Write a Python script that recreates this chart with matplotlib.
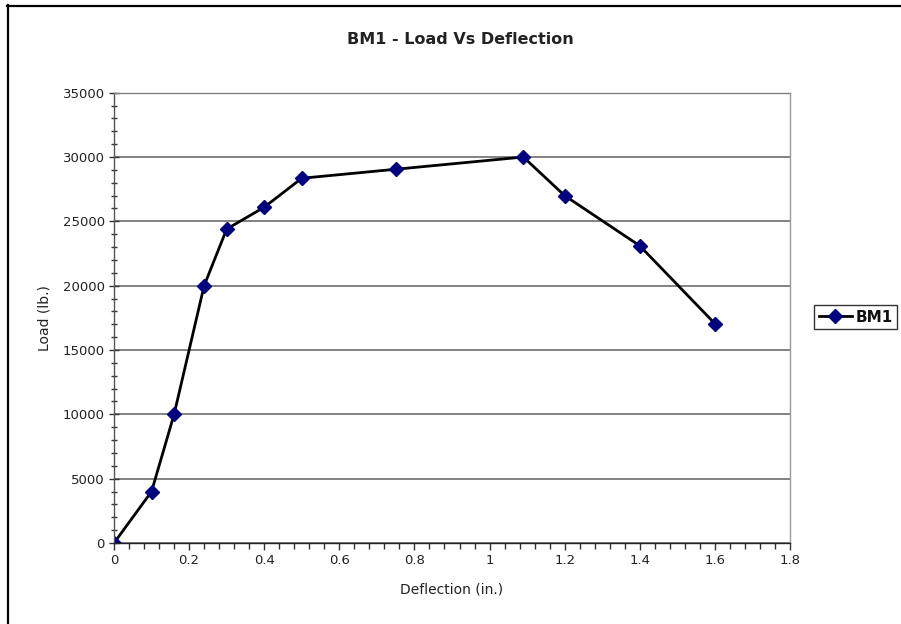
import matplotlib
matplotlib.use("Agg")
import matplotlib.pyplot as plt
from matplotlib.lines import Line2D
from matplotlib.ticker import MultipleLocator

# deflection (in.) vs load (lb.) for beam BM1
deflection = [0, 0.1, 0.16, 0.24, 0.3, 0.4, 0.5, 0.75, 1.09, 1.2, 1.4, 1.6]
load = [0, 4000, 10000, 20000, 24400, 26100, 28350, 29050, 30000, 27000, 23100, 17050]
xticks = [0, 0.2, 0.4, 0.6, 0.8, 1.0, 1.2, 1.4, 1.6, 1.8]
xtick_labels = ['0', '0.2', '0.4', '0.6', '0.8', '1', '1.2', '1.4', '1.6', '1.8']

plt.rcParams['font.family'] = ['DejaVu Sans']

W, H = 901, 624
fig = plt.figure(figsize=(W / 100, H / 100), dpi=100)
ax = fig.add_axes([114 / W, 1 - 543 / H, (790 - 114) / W, (543 - 92.7) / H])

ax.plot(deflection, load, color='black', lw=2, marker='D', markersize=7,
        markerfacecolor='#000080', markeredgecolor='#000080', label='BM1')

ax.set_xlim(0, 1.8)
ax.set_ylim(0, 35000)
ax.set_xticks(xticks)
ax.set_xticklabels(xtick_labels)
ax.xaxis.set_minor_locator(MultipleLocator(0.04))
ax.yaxis.set_major_locator(MultipleLocator(5000))
ax.yaxis.set_minor_locator(MultipleLocator(1000))

ax.grid(axis='y', which='major', color='#606060', lw=1.1)
ax.set_axisbelow(True)

ax.tick_params(which='major', direction='inout', length=7, width=1,
               labelsize=9.5, labelcolor='#222222', color='#333333', pad=3)
ax.tick_params(which='minor', direction='inout', length=4, width=1, color='#333333')
ax.tick_params(axis='x', which='both', direction='out')
ax.tick_params(axis='x', which='major', length=5, pad=3)

ax.spines['left'].set_color('#555555')
ax.spines['bottom'].set_color('#222222')
ax.spines['right'].set_color('#999999')
ax.spines['top'].set_color('#808080')
for s in ax.spines.values():
    s.set_linewidth(1)

ax.set_xlabel('Deflection (in.)', fontsize=10, color='#222222', labelpad=11)
ax.set_ylabel('Load (lb.)', fontsize=10, color='#222222', labelpad=8)
fig.text(460 / W, 1 - 39 / H, 'BM1 - Load Vs Deflection', ha='center', va='center',
         fontsize=11.5, fontweight='bold', color='#222222')

leg = fig.legend(loc='center left', bbox_to_anchor=(814 / W, 1 - 317 / H),
                 fancybox=False, frameon=True, fontsize=11, handlelength=2.2,
                 handletextpad=0.2, borderpad=0.3, borderaxespad=0)
leg.get_frame().set_edgecolor('black')
leg.get_frame().set_linewidth(1)
for t in leg.get_texts():
    t.set_fontweight('bold')
    t.set_color('#111111')

# chart area border on the left and top
fig.add_artist(Line2D([7.5 / W, 7.5 / W], [0, 1 - 5 / H], color='black', lw=1.6,
                      transform=fig.transFigure))
fig.add_artist(Line2D([7 / W, 1], [1 - 5.5 / H, 1 - 5.5 / H], color='black', lw=1.6,
                      transform=fig.transFigure))

fig.savefig('out.png', dpi=100)
